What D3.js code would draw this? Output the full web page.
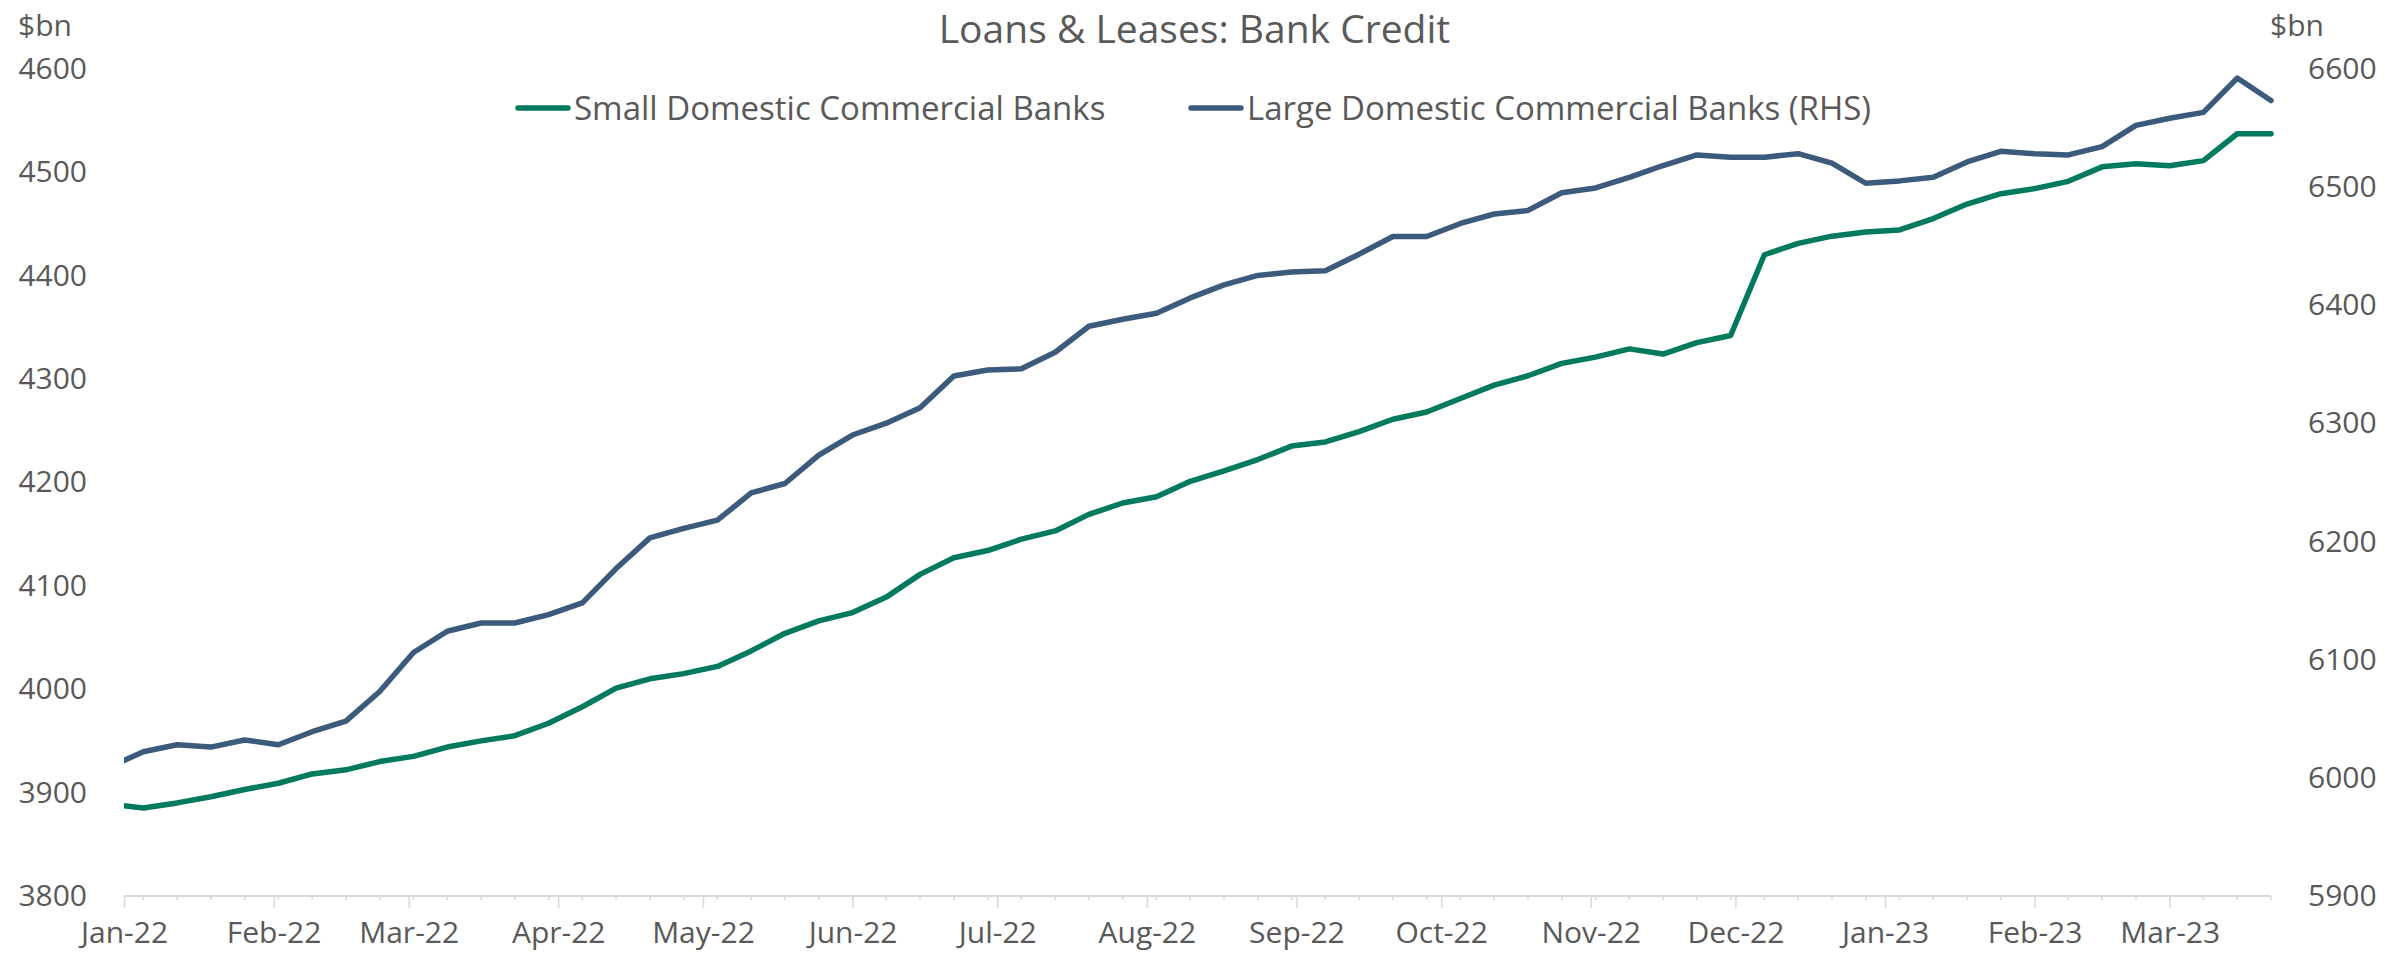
<!DOCTYPE html>
<html>
<head>
<meta charset="utf-8">
<script src="https://cdn.jsdelivr.net/npm/d3@7"></script>
<style>
  html, body { margin: 0; padding: 0; background: #ffffff; }
  svg { display: block; }
  text { font-family: "Open Sans", "Noto Sans", sans-serif; fill: #595959; }
</style>
</head>
<body>
<svg id="chart" width="2389" height="966"></svg>
<script>
// Weekly observation dates (Wednesdays)
const weeks = [
  "2021-12-29",
  "2022-01-05","2022-01-12","2022-01-19","2022-01-26",
  "2022-02-02","2022-02-09","2022-02-16","2022-02-23",
  "2022-03-02","2022-03-09","2022-03-16","2022-03-23","2022-03-30",
  "2022-04-06","2022-04-13","2022-04-20","2022-04-27",
  "2022-05-04","2022-05-11","2022-05-18","2022-05-25",
  "2022-06-01","2022-06-08","2022-06-15","2022-06-22","2022-06-29",
  "2022-07-06","2022-07-13","2022-07-20","2022-07-27",
  "2022-08-03","2022-08-10","2022-08-17","2022-08-24","2022-08-31",
  "2022-09-07","2022-09-14","2022-09-21","2022-09-28",
  "2022-10-05","2022-10-12","2022-10-19","2022-10-26",
  "2022-11-02","2022-11-09","2022-11-16","2022-11-23","2022-11-30",
  "2022-12-07","2022-12-14","2022-12-21","2022-12-28",
  "2023-01-04","2023-01-11","2023-01-18","2023-01-25",
  "2023-02-01","2023-02-08","2023-02-15","2023-02-22",
  "2023-03-01","2023-03-08","2023-03-15","2023-03-22"
];

// Small domestic commercial banks, $bn (left axis)
const smallBanks = [
  3889,
  3885, 3890, 3896, 3903,
  3909, 3918, 3922, 3930,
  3935, 3944, 3950, 3955, 3967,
  3983, 4001, 4010, 4015,
  4022, 4037, 4054, 4066,
  4074, 4089, 4111, 4127, 4134,
  4145, 4153, 4169, 4180,
  4186, 4201, 4211, 4222, 4235,
  4239, 4249, 4261, 4268,
  4281, 4294, 4303, 4315,
  4321, 4329, 4324, 4335, 4342,
  4420, 4431, 4438, 4442,
  4444, 4455, 4469, 4479,
  4484, 4491, 4505, 4508,
  4506, 4511, 4537, 4537
];

// Large domestic commercial banks, $bn (right axis)
const largeBanks = [
  6009,
  6022, 6028, 6026, 6032,
  6028, 6039, 6048, 6073,
  6106, 6124, 6131, 6131, 6138,
  6148, 6177, 6203, 6211,
  6218, 6241, 6249, 6273,
  6290, 6300, 6313, 6340, 6345,
  6346, 6360, 6382, 6388,
  6393, 6406, 6417, 6425, 6428,
  6429, 6443, 6458, 6458,
  6469, 6477, 6480, 6495,
  6499, 6508, 6518, 6527, 6525,
  6525, 6528, 6520, 6503,
  6505, 6508, 6521, 6530,
  6528, 6527, 6534, 6552,
  6558, 6563, 6592, 6573
];

const leftTicks  = [3800, 3900, 4000, 4100, 4200, 4300, 4400, 4500, 4600];
const rightTicks = [5900, 6000, 6100, 6200, 6300, 6400, 6500, 6600];
const monthTicks = [
  "2022-01-01","2022-02-01","2022-03-01","2022-04-01","2022-05-01",
  "2022-06-01","2022-07-01","2022-08-01","2022-09-01","2022-10-01",
  "2022-11-01","2022-12-01","2023-01-01","2023-02-01","2023-03-01"
];
const axisRange = ["2022-01-01", "2023-03-22"];

const seriesNames = ["Small Domestic Commercial Banks", "Large Domestic Commercial Banks (RHS)"];
const title = "Loans & Leases: Bank Credit";
const unitLabel = "$bn";

const GREEN = "#007a5e";
const BLUE  = "#3b5a7c";
const AXIS  = "#d9d9d9";

const parse = d3.utcParse("%Y-%m-%d");
const dates = weeks.map(parse);

const svg = d3.select("#chart");
const W = 2389, H = 966;
const plot = { left: 124, right: 2271, top: 68.6, bottom: 896 };

const x = d3.scaleUtc()
  .domain(axisRange.map(parse))
  .range([plot.left, plot.right]);
const yL = d3.scaleLinear().domain([3800, 4600]).range([plot.bottom, plot.top]);
const yR = d3.scaleLinear().domain([5900, 6600]).range([plot.bottom, plot.top]);

// Title
svg.append("text")
  .attr("x", W / 2).attr("y", 43)
  .attr("text-anchor", "middle")
  .style("font-size", "39px")
  .text(title);

// Unit labels above each value axis
svg.append("text").attr("x", 18).attr("y", 36).style("font-size", "30px").text(unitLabel);
svg.append("text").attr("x", 2270).attr("y", 36).style("font-size", "30px").text(unitLabel);

// Left value axis labels
const axisL = d3.axisLeft(yL).tickValues(leftTicks).tickSize(0).tickPadding(0).tickFormat(d3.format("d"));
const gL = svg.append("g").attr("transform", "translate(87,0)").call(axisL);
gL.select(".domain").remove();
gL.selectAll("text").style("font-size", "30px").attr("fill", "#595959").attr("font-family", null);

// Right value axis labels
const axisR = d3.axisRight(yR).tickValues(rightTicks).tickSize(0).tickPadding(0).tickFormat(d3.format("d"));
const gR = svg.append("g").attr("transform", "translate(2308,0)").call(axisR);
gR.select(".domain").remove();
gR.selectAll("text").style("font-size", "30px").attr("fill", "#595959").attr("font-family", null);

// Date axis: weekly minor ticks, monthly major ticks with labels
const inRange = dates.filter(d => d >= x.domain()[0] && d <= x.domain()[1]);
svg.append("g").selectAll("line.minor")
  .data(inRange).join("line")
  .attr("class", "minor")
  .attr("x1", d => x(d)).attr("x2", d => x(d))
  .attr("y1", plot.bottom).attr("y2", plot.bottom + 4)
  .attr("stroke", AXIS).attr("stroke-width", 1.5);

const axisX = d3.axisBottom(x)
  .tickValues(monthTicks.map(parse))
  .tickSize(12).tickPadding(14)
  .tickFormat(d3.utcFormat("%b-%y"));
const gX = svg.append("g").attr("transform", `translate(0,${plot.bottom})`).call(axisX);
gX.select(".domain").attr("stroke", AXIS).attr("stroke-width", 2)
  .attr("d", `M${plot.left},0H${plot.right}`);
gX.selectAll(".tick line").attr("stroke", AXIS).attr("stroke-width", 1.5);
gX.selectAll("text").style("font-size", "30px").attr("fill", "#595959").attr("font-family", null);

// Series lines, clipped at the left edge of the date axis
svg.append("defs").append("clipPath").attr("id", "plotClip")
  .append("rect").attr("x", plot.left).attr("y", 0).attr("width", W - plot.left).attr("height", H);

const lineSmall = d3.line().x((d, i) => x(dates[i])).y(d => yL(d));
const lineLarge = d3.line().x((d, i) => x(dates[i])).y(d => yR(d));

const gLines = svg.append("g").attr("clip-path", "url(#plotClip)");
gLines.append("path").datum(largeBanks)
  .attr("d", lineLarge).attr("fill", "none")
  .attr("stroke", BLUE).attr("stroke-width", 5.5)
  .attr("stroke-linejoin", "round").attr("stroke-linecap", "round");
gLines.append("path").datum(smallBanks)
  .attr("d", lineSmall).attr("fill", "none")
  .attr("stroke", GREEN).attr("stroke-width", 5.5)
  .attr("stroke-linejoin", "round").attr("stroke-linecap", "round");

// Legend
const legend = [
  { name: seriesNames[0], color: GREEN, x: 518 },
  { name: seriesNames[1], color: BLUE,  x: 1191 }
];
const gLeg = svg.append("g").attr("transform", "translate(0,108)");
legend.forEach(item => {
  gLeg.append("line")
    .attr("x1", item.x).attr("x2", item.x + 50)
    .attr("y1", 0).attr("y2", 0)
    .attr("stroke", item.color).attr("stroke-width", 5.5).attr("stroke-linecap", "round");
  gLeg.append("text")
    .attr("x", item.x + 56).attr("y", 0).attr("dy", "0.35em")
    .style("font-size", "33px")
    .text(item.name);
});
</script>
</body>
</html>
